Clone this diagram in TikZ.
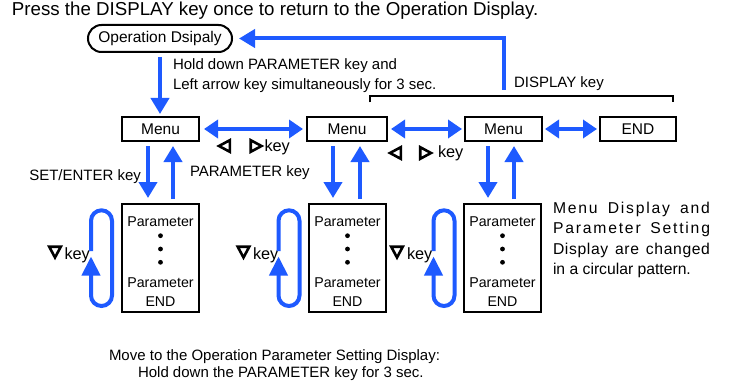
\documentclass[tikz,border=0pt]{standalone}
\usepackage{fontspec}
\setmainfont{Liberation Sans}
\usetikzlibrary{arrows.meta}
\definecolor{myblue}{RGB}{30,90,255}
\newcommand\ParamText[2]{%
  \node[pfont, anchor=base] (#1a) at (#2,226) {Parameter};
  \node[dot] (#1d1) at (#2,235.7) {};
  \node[dot] (#1d2) at (#2,249) {};
  \node[dot] (#1d3) at (#2,262.3) {};
  \node[pfont, anchor=base] (#1b) at (#2,287) {Parameter};
  \node[pfont, anchor=base] (#1c) at (#2,306.5) {END};
}
\newcommand\KeyLoop[1]{%
  \draw[bl, rounded corners=10.5pt, -{Triangle[length=19pt,width=18pt]}]
    (#1,251) -- (#1,210.3) -- (#1+21,210.3) -- (#1+21,306) -- (#1,306) -- (#1,256.5);
}
\newcommand\DownTri[2]{\draw[keytri] (#1-5.8,#2-5.8) -- (#1+5.8,#2-5.8) -- (#1,#2+5) -- cycle;}
\newcommand\LeftTri[2]{\draw[keytri] (#1+5.8,#2-5.8) -- (#1+5.8,#2+5.8) -- (#1-5,#2) -- cycle;}
\newcommand\RightTri[2]{\draw[keytri] (#1-5.8,#2-5.8) -- (#1-5.8,#2+5.8) -- (#1+5,#2) -- cycle;}
\begin{document}
\begin{tikzpicture}[x=1pt,y=-1pt,
  every node/.style={inner sep=0pt, outer sep=0pt, text=black},
  lbl/.style={font=\fontsize{15}{18}\selectfont},
  keyl/.style={font=\fontsize{16.3}{18}\selectfont},
  rtxt/.style={font=\fontsize{15.7}{18}\selectfont},
  ttl/.style={font=\fontsize{18.7}{22}\selectfont},
  pfont/.style={font=\fontsize{14.2}{17}\selectfont},
  dot/.style={circle, fill=black, minimum size=4.8pt},
  box/.style={draw=black, line width=2pt, minimum width=77pt, font=\fontsize{15.5}{18}\selectfont},
  menubox/.style={box, minimum height=24pt},
  parbox/.style={box, minimum height=108pt},
  bl/.style={draw=myblue, line width=4pt},
  barrow/.style={bl, -{Triangle[length=16pt,width=18pt]}},
  dbarrow/.style={bl, {Triangle[length=14pt,width=18pt]}-{Triangle[length=14pt,width=18pt]}},
  keytri/.style={draw=black, line width=2.6pt, line join=miter},
]
\useasboundingbox[fill=white] (0,0) rectangle (735,385);

\node[ttl, anchor=base west] (title) at (12,16) {Press the DISPLAY key once to return to the Operation Display.};
\node[draw, line width=2pt, rounded corners=13.5pt, minimum width=144pt, minimum height=27pt,
      font=\fontsize{15.5}{18}\selectfont] (op) at (160,38.5) {Operation Dsipaly};

\node[menubox] (m1) at (160.5,129) {Menu};
\node[menubox, minimum width=80pt] (m2) at (347,129) {Menu};
\node[menubox] (m3) at (503.5,129) {Menu};
\node[menubox, minimum width=76pt] (end) at (638,129) {END};

\node[parbox] (p1) at (160.5,258) {};
\node[parbox] (p2) at (347.5,258) {};
\node[parbox] (p3) at (502.5,258) {};
\ParamText{pa}{160.5}
\ParamText{pb}{347.5}
\ParamText{pc}{502.5}

% texts
\node[lbl, anchor=base west] (hold1) at (173,70) {Hold down PARAMETER key and};
\node[lbl, anchor=base west] (hold2) at (173,90) {Left arrow key simultaneously for 3 sec.};
\node[lbl, anchor=base west] (disp) at (514,88) {DISPLAY key};
\node[lbl, anchor=base east] (setk) at (141,180) {SET/ENTER key};
\node[lbl, anchor=base west] (park) at (190,176) {PARAMETER key};
\node[keyl, anchor=base west] (k1) at (264.5,151) {key};
\node[keyl, anchor=base west] (k2) at (438,157.5) {key};
\node[keyl, anchor=base west] (dk1) at (64.5,259.5) {key};
\node[keyl, anchor=base west] (dk2) at (253,259.5) {key};
\node[keyl, anchor=base west] (dk3) at (407,259.5) {key};
\node[lbl, anchor=base west] (bot1) at (109,360) {Move to the Operation Parameter Setting Display:};
\node[lbl, anchor=base west] (bot2) at (138,377) {Hold down the PARAMETER key for 3 sec.};
\node[rtxt, anchor=base west] (rt1) at (553,213) {\makebox[157pt][s]{\addfontfeature{LetterSpace=11.5}Menu Display and}};
\node[rtxt, anchor=base west] (rt2) at (553,233.5) {\makebox[157pt][s]{\addfontfeature{LetterSpace=11.5}Parameter Setting}};
\node[rtxt, anchor=base west] (rt3) at (553,254) {\makebox[157pt][s]{\addfontfeature{LetterSpace=4}Display are changed}};
\node[rtxt, anchor=base west] (rt4) at (553,274.5) {in a circular pattern.};

% key triangles
\LeftTri{224}{146}
\RightTri{256.5}{146}
\LeftTri{395}{153}
\RightTri{426}{153}
\DownTri{55}{252.5}
\DownTri{243.5}{252.5}
\DownTri{397}{252.5}

% bracket
\coordinate (brl) at (370,102.5);
\coordinate (brr) at (673,102.5);
\draw[line width=1.8pt] (brl) -- ++(0,-6.5) -| (brr);

% connectors
\draw[barrow, shorten <=5pt, shorten >=3pt] (op.south) -- (op.south |- m1.north);
\coordinate (ret) at (504,90);
\draw[barrow, shorten >=7pt] (ret) |- (op.east);
\draw[dbarrow, shorten <=5pt, shorten >=4pt] (m1.east) -- (m2.west);
\draw[dbarrow, shorten <=4pt, shorten >=3pt] (m2.east) -- (m3.west);
\draw[dbarrow, shorten <=3pt, shorten >=3pt] (m3.east) -- (end.west);

\draw[barrow, shorten <=5pt, shorten >=6pt] ([xshift=-12.5pt]m1.south) -- ([xshift=-12.5pt]p1.north);
\draw[barrow, shorten <=5pt, shorten >=5pt] ([xshift=12.5pt]p1.north) -- ([xshift=12.5pt]m1.south);
\draw[barrow, shorten <=5pt, shorten >=6pt] ([xshift=-14pt]m2.south) -- ([xshift=-14pt]m2.south |- p2.north);
\draw[barrow, shorten <=5pt, shorten >=5pt] ([xshift=13pt]m2.south |- p2.north) -- ([xshift=13pt]m2.south);
\draw[barrow, shorten <=5pt, shorten >=6pt] ([xshift=-15.5pt]m3.south) -- ([xshift=-15.5pt]m3.south |- p3.north);
\draw[barrow, shorten <=5pt, shorten >=5pt] ([xshift=10.5pt]m3.south |- p3.north) -- ([xshift=10.5pt]m3.south);

\KeyLoop{91}
\KeyLoop{278.5}
\KeyLoop{433.5}
\end{tikzpicture}
\end{document}
